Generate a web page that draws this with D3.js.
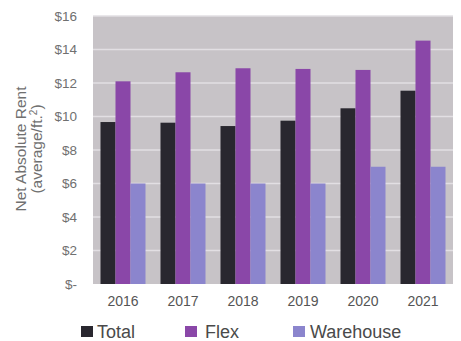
<!DOCTYPE html>
<html><head><meta charset="utf-8">
<script src="https://cdn.jsdelivr.net/npm/d3@7"></script>
<style>body{margin:0;background:#fff}svg{display:block}</style>
</head><body>
<script>
const years = ["2016","2017","2018","2019","2020","2021"];
const seriesNames = ["Total","Flex","Warehouse"];
const total = [9.67, 9.63, 9.43, 9.75, 10.49, 11.54];
const flex = [12.1, 12.64, 12.88, 12.84, 12.78, 14.53];
const warehouse = [6.0, 6.0, 6.0, 6.0, 7.0, 7.0];
const yTicks = [0,2,4,6,8,10,12,14,16];
const yTickLabels = ["$-","$2","$4","$6","$8","$10","$12","$14","$16"];
const colors = ["#29272f","#8a47a8","#8b85cd"];

const W=461,H=341;
const svg=d3.select("body").append("svg").attr("width",W).attr("height",H);
const L=93,R=453,T=16,B=284;
const FONT="Liberation Sans, Arial, sans-serif";
const x=d3.scaleBand().domain(years).range([L,R]).paddingInner(0.25).paddingOuter(0.125);
const xs=d3.scaleBand().domain(seriesNames).range([0,x.bandwidth()]);
const y=d3.scaleLinear().domain([0,16]).range([B,T]);

svg.append("rect").attr("x",L).attr("y",T).attr("width",R-L).attr("height",B-T).attr("fill","#c7c3c7");
svg.append("g").selectAll("line").data(yTicks.slice(1)).join("line")
 .attr("x1",L).attr("x2",R).attr("y1",d=>y(d)).attr("y2",d=>y(d))
 .attr("stroke","#e2dfe3").attr("stroke-width",1.5);

const data=[total,flex,warehouse];
const g=svg.append("g");
seriesNames.forEach((s,i)=>{
  g.append("g").selectAll("rect").data(years).join("rect")
   .attr("x",(d)=>x(d)+xs(s))
   .attr("width",xs.bandwidth())
   .attr("y",(d,j)=>y(data[i][j]))
   .attr("height",(d,j)=>B-y(data[i][j]))
   .attr("fill",colors[i]);
});

const yAxis=d3.axisLeft(y).tickValues(yTicks).tickFormat((d,i)=>yTickLabels[i]).tickSize(0).tickPadding(16);
const ya=svg.append("g").attr("transform",`translate(${L},0)`).call(yAxis);
ya.select(".domain").remove();
ya.selectAll("text").attr("fill","#707070").style("font-family",FONT).style("font-size","13.5px");

const xAxis=d3.axisBottom(x).tickSize(0).tickPadding(12);
const xa=svg.append("g").attr("transform",`translate(0,${B})`).call(xAxis);
xa.select(".domain").remove();
xa.selectAll("text").attr("fill","#555").style("font-family",FONT).style("font-size","14px");

const tt=svg.append("text").attr("transform","translate(26,149) rotate(-90)")
 .attr("text-anchor","middle").attr("fill","#707070")
 .style("font-family",FONT).style("font-size","15.5px");
tt.append("tspan").attr("x",0).attr("dy",0).text("Net Absolute Rent");
const t2=tt.append("tspan").attr("x",0).attr("dy",16).text("(average/ft.");
t2.append("tspan").attr("baseline-shift","super").style("font-size","10px").text("2");
t2.append("tspan").text(")");

const legX=[81,185,293];
const legGap=[16,20,17];
const leg=svg.append("g");
seriesNames.forEach((s,i)=>{
  leg.append("rect").attr("x",legX[i]).attr("y",326).attr("width",12).attr("height",11).attr("fill",colors[i]);
  leg.append("text").attr("x",legX[i]+legGap[i]).attr("y",338).text(s)
   .attr("fill","#4a4a4a").style("font-family",FONT).style("font-size","18px");
});
</script>
</body></html>
